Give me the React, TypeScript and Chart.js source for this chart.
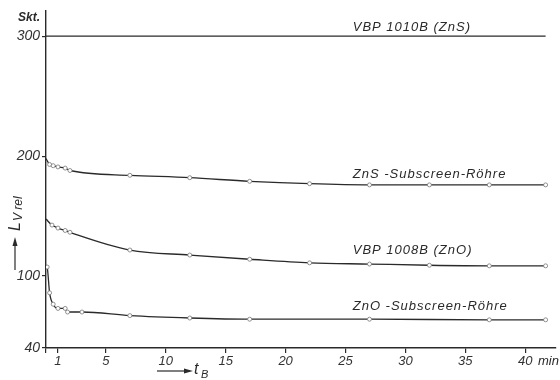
import React, { useEffect, useRef } from "react";
import { Chart, registerables } from "chart.js";

Chart.register(...registerables);

// ---- data ----
const xTicks = [0, 1, 5, 10, 15, 20, 25, 30, 35, 40];
const yTicks = [40, 100, 200, 300];

const tVBP1010 = [0, 41.7];
const vVBP1010 = [300, 300];

const tZnSSub = [0, 0.3, 0.6, 1, 1.6, 2, 7, 12, 17, 22, 27, 32, 37, 41.7];
const vZnSSub = [198, 193, 192, 191, 190, 188, 184, 182, 179, 177, 176, 176, 176, 176];

const tVBP1008 = [0, 0.5, 1, 1.6, 2, 7, 12, 17, 22, 27, 32, 37, 41.7];
const vVBP1008 = [147.5, 142.5, 140, 138, 136.5, 121.7, 117.5, 114, 111, 110, 109, 108.5, 108.5];

const tZnOSub = [0, 0.1, 0.3, 0.6, 1, 1.6, 1.8, 3, 7, 12, 17, 27, 37, 41.7];
const vZnOSub = [109, 107.5, 86, 76.5, 73, 73, 70, 70, 67, 65, 64, 64, 63.5, 63.5];

const seriesNames = ["VBP 1010B (ZnS)", "ZnS -Subscreen-Röhre", "VBP 1008B (ZnO)", "ZnO -Subscreen-Röhre"];
// label anchors in data units (x, y)
const labelX = [25.6, 25.6, 25.6, 25.6];
const labelY = [307.5, 185, 121.7, 75];

const INK = "#2a2a2a";
const FONT = "'Liberation Sans', Arial, sans-serif";

function toPts(t: number[], v: number[]) {
  return t.map((x, i) => ({ x, y: v[i] }));
}

const annotationPlugin = {
  id: "annot",
  afterDraw(chart: any) {
    const ctx = chart.ctx as CanvasRenderingContext2D;
    const xs = chart.scales.x;
    const ys = chart.scales.y;
    ctx.save();
    ctx.fillStyle = INK;
    ctx.strokeStyle = INK;
    // series labels
    ctx.font = `italic 13px ${FONT}`;
    (ctx as any).letterSpacing = "1px";
    ctx.textBaseline = "middle";
    ctx.textAlign = "left";
    seriesNames.forEach((n, i) => {
      ctx.fillText(n, xs.getPixelForValue(labelX[i]), ys.getPixelForValue(labelY[i]));
    });
    (ctx as any).letterSpacing = "0px";
    // Skt.
    ctx.font = `italic bold 12px ${FONT}`;
    ctx.textAlign = "right";
    ctx.fillText("Skt.", 40, 18);
    // min
    ctx.font = `italic 13px ${FONT}`;
    ctx.textAlign = "left";
    ctx.fillText("min", 538, 361);

    // y-axis title rotated
    ctx.save();
    ctx.translate(15, 231);
    ctx.rotate(-Math.PI / 2);
    ctx.textAlign = "left";
    ctx.textBaseline = "alphabetic";
    ctx.font = `italic 16px ${FONT}`;
    ctx.fillText("L", 0, 5);
    const lw = ctx.measureText("L").width;
    ctx.font = `italic 12px ${FONT}`;
    ctx.fillText("V rel", lw + 1, 7);
    ctx.restore();
    // y arrow
    ctx.lineWidth = 1.2;
    ctx.beginPath();
    ctx.moveTo(15, 270);
    ctx.lineTo(15, 244);
    ctx.stroke();
    ctx.beginPath();
    ctx.moveTo(15, 237);
    ctx.lineTo(12.5, 246);
    ctx.lineTo(17.5, 246);
    ctx.closePath();
    ctx.fill();

    // x-axis title with arrow
    ctx.beginPath();
    ctx.moveTo(157, 371);
    ctx.lineTo(186, 371);
    ctx.stroke();
    ctx.beginPath();
    ctx.moveTo(193, 371);
    ctx.lineTo(184, 368.5);
    ctx.lineTo(184, 373.5);
    ctx.closePath();
    ctx.fill();
    ctx.textBaseline = "alphabetic";
    ctx.textAlign = "left";
    ctx.font = `italic 16px ${FONT}`;
    ctx.fillText("t", 194, 374);
    ctx.font = `italic 11px ${FONT}`;
    ctx.fillText("B", 201, 378);
    ctx.restore();
  },
};

function ds(label: string, t: number[], v: number[], markers: boolean) {
  return {
    label,
    data: toPts(t, v),
    borderColor: INK,
    borderWidth: 1.3,
    backgroundColor: "#ffffff",
    pointBorderColor: "#777",
    pointBorderWidth: 0.8,
    pointRadius: markers ? (c: any) => (c.dataIndex === 0 ? 0 : 2) : 0,
    cubicInterpolationMode: "monotone" as const,
    fill: false,
  };
}

export default function App() {
  const ref = useRef<HTMLCanvasElement>(null);
  useEffect(() => {
    if (!ref.current) return;
    const chart = new Chart(ref.current, {
      type: "line",
      data: {
        datasets: [
          ds(seriesNames[0], tVBP1010, vVBP1010, false),
          ds(seriesNames[1], tZnSSub, vZnSSub, true),
          ds(seriesNames[2], tVBP1008, vVBP1008, true),
          ds(seriesNames[3], tZnOSub, vZnOSub, true),
        ],
      },
      options: {
        animation: false,
        responsive: false,
        maintainAspectRatio: false,
        layout: { padding: { top: 11, right: 4, left: 0, bottom: 0 } },
        plugins: { legend: { display: false }, tooltip: { enabled: false } },
        scales: {
          x: {
            type: "linear",
            min: 0,
            max: 42.5,
            afterBuildTicks: (s: any) => {
              s.ticks = xTicks.map((v) => ({ value: v }));
            },
            afterFit: (s: any) => {
              s.height = 32;
            },
            ticks: {
              autoSkip: false,
              maxRotation: 0,
              padding: 1,
              color: "#333",
              font: { family: FONT, size: 13, style: "italic" },
              callback: (v: any) => (v === 0 ? "" : String(v)),
            },
            grid: { drawOnChartArea: false, drawTicks: true, tickLength: 5, color: INK, lineWidth: 1.2 },
            border: { display: true, color: INK, width: 1.4 },
          },
          y: {
            type: "linear",
            min: 40,
            max: 321,
            afterBuildTicks: (s: any) => {
              s.ticks = yTicks.map((v) => ({ value: v }));
            },
            afterFit: (s: any) => {
              s.width = 46;
            },
            ticks: {
              padding: 2,
              color: "#333",
              font: { family: FONT, size: 14, style: "italic" },
            },
            grid: { drawOnChartArea: false, drawTicks: true, tickLength: 4, color: INK, lineWidth: 1.2 },
            border: { display: true, color: INK, width: 1.4 },
          },
        },
      },
      plugins: [annotationPlugin],
    });
    return () => chart.destroy();
  }, []);
  return (
    <div style={{ position: "fixed", left: 0, top: 0, width: 560, height: 380, background: "#fff" }}>
      <canvas ref={ref} width={560} height={380} style={{ width: 560, height: 380 }} />
    </div>
  );
}
